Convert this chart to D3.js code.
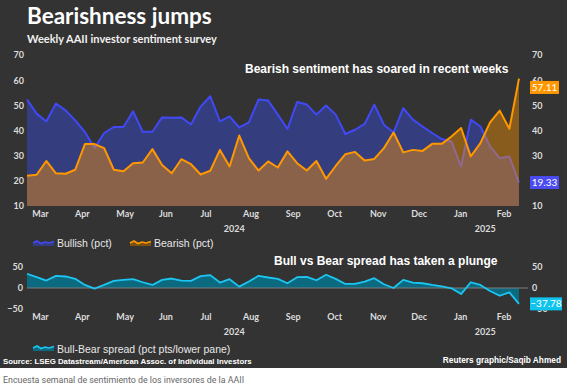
<!DOCTYPE html>
<html lang="en">
<head>
<meta charset="UTF-8">
<title>Bearishness jumps</title>
<script src="https://cdn.jsdelivr.net/npm/d3@7"></script>
<style>
  body { margin: 0; background: #fff; }
  svg { display: block; }
  .tick text { font-family: Lato, sans-serif; font-weight: bold; font-size: 9px; fill: #dcdcdc; }
</style>
</head>
<body>
<script>
// weekly AAII survey, first week 28 Feb 2024
var firstWeek = new Date(2024, 1, 28);
var bullish = [52.3, 46.7, 43.6, 50.7, 48.0, 44.0, 39.4, 33.0, 39.0, 41.4, 41.4, 47.6, 39.5,
               39.5, 45.2, 45.1, 45.2, 42.4, 49.5, 53.6, 43.6, 45.6, 41.2, 43.2, 52.3, 51.9,
               46.3, 40.6, 51.3, 50.3, 46.3, 49.9, 46.3, 38.6, 40.3, 42.6, 50.3, 42.3, 39.2,
               48.9, 44.3, 41.6, 39.0, 36.6, 35.6, 25.7, 44.3, 41.6, 33.7, 29.0, 29.7, 19.3];
var bearish = [22.0, 22.4, 27.9, 23.0, 22.8, 24.4, 34.6, 34.6, 33.0, 24.4, 23.8, 27.0, 27.3,
               32.6, 26.3, 23.0, 28.6, 26.6, 22.5, 24.0, 32.3, 25.7, 38.0, 29.0, 24.1, 27.7,
               25.3, 31.7, 27.0, 24.1, 27.9, 20.8, 25.9, 30.6, 31.5, 28.1, 28.7, 33.0, 39.2,
               31.3, 32.3, 31.9, 34.7, 34.7, 37.6, 41.0, 29.7, 35.0, 43.2, 47.9, 40.7, 60.6];
var spread = [33.9, 25.8, 17.7, 29.0, 27.4, 21.8, 7.3, -1.6, 7.3, 17.0, 19.4, 21.0, 13.7,
              7.3, 19.4, 22.6, 17.7, 17.0, 28.2, 30.6, 12.9, 21.0, 3.2, 15.3, 29.0, 25.0,
              21.8, 11.3, 25.8, 26.6, 18.5, 31.5, 21.8, 9.7, 9.7, 15.3, 23.4, 8.9, 0.0,
              19.4, 12.9, 11.3, 7.3, 4.0, -0.8, -14.5, 13.7, 7.3, -7.3, -18.5, -10.5, -37.8];
var latestBull = 19.33, latestBear = 57.11, latestSpread = -37.78;
var sentimentTicks = [10, 20, 30, 40, 50, 60, 70];
var spreadTicks = [-50, 0, 50];

var width = 572, height = 388;
var dates = bullish.map(function(d, i) { return d3.timeDay.offset(firstWeek, 7 * i); });

var svg = d3.select('body').append('svg')
  .attr('width', width)
  .attr('height', height);

svg.append('rect')
  .attr('width', 567).attr('height', 368)
  .attr('fill', '#333333');

var x = d3.scaleTime()
  .domain([dates[0], dates[dates.length - 1]])
  .range([27, 519]);
var y = d3.scaleLinear().domain([10, 70]).range([206, 55]);
var ys = d3.scaleLinear().domain([-50, 50]).range([309, 267]);

// titles
svg.append('text').attr('x', 27).attr('y', 24)
  .style('font-family', 'Lato, sans-serif').style('font-weight', 'bold').style('font-size', '22.5px')
  .attr('fill', '#fff').text('Bearishness jumps');
svg.append('text').attr('x', 27).attr('y', 43)
  .style('font-family', 'Lato, sans-serif').style('font-weight', 'bold').style('font-size', '11px')
  .attr('fill', '#f0f0f0').text('Weekly AAII investor sentiment survey');

// upper pane
var areaOf = function(vals) {
  return d3.area()
    .x(function(d, i) { return x(dates[i]); })
    .y0(y(10))
    .y1(function(d) { return y(d); })(vals);
};
var lineOf = function(vals, sc) {
  return d3.line()
    .x(function(d, i) { return x(dates[i]); })
    .y(function(d) { return sc(d); })(vals);
};

svg.append('path').attr('d', areaOf(bullish)).attr('fill', '#343d7e');
svg.append('path').attr('d', lineOf(bullish, y))
  .attr('fill', 'none').attr('stroke', '#4149f6').attr('stroke-width', 2).attr('stroke-linejoin', 'round');
svg.append('path').attr('d', areaOf(bearish)).attr('fill', 'rgba(255,150,0,0.42)');
svg.append('path').attr('d', lineOf(bearish, y))
  .attr('fill', 'none').attr('stroke', '#ff9800').attr('stroke-width', 2).attr('stroke-linejoin', 'round');

var yLeft = svg.append('g').attr('transform', 'translate(25,0)')
  .call(d3.axisLeft(y).tickValues(sentimentTicks).tickSize(0).tickPadding(1));
var yRight = svg.append('g').attr('transform', 'translate(531,0)')
  .call(d3.axisRight(y).tickValues(sentimentTicks).tickSize(0).tickPadding(1));

var monthAxis = d3.axisBottom(x)
  .ticks(d3.timeMonth.every(1))
  .tickFormat(d3.timeFormat('%b'))
  .tickSize(0).tickPadding(5);
var xTop = svg.append('g').attr('transform', 'translate(0,206)').call(monthAxis);

svg.append('text').attr('x', 245).attr('y', 73)
  .style('font-family', '"Liberation Sans", Arial, sans-serif').style('font-weight', 'bold').style('font-size', '12px')
  .attr('fill', '#fff').text('Bearish sentiment has soared in recent weeks');

// lower pane
svg.append('path')
  .attr('d', d3.area()
    .x(function(d, i) { return x(dates[i]); })
    .y0(ys(0))
    .y1(function(d) { return ys(d); })(spread))
  .attr('fill', '#0c6a80');
svg.append('line')
  .attr('x1', 27).attr('x2', 528).attr('y1', ys(0)).attr('y2', ys(0))
  .attr('stroke', '#7d7d7d').attr('stroke-width', 1);
svg.append('path').attr('d', lineOf(spread, ys))
  .attr('fill', 'none').attr('stroke', '#1cc6f2').attr('stroke-width', 1.8).attr('stroke-linejoin', 'round');

var sLeft = svg.append('g').attr('transform', 'translate(24,0)')
  .call(d3.axisLeft(ys).tickValues(spreadTicks).tickSize(0).tickPadding(1));
var sRight = svg.append('g').attr('transform', 'translate(531,0)')
  .call(d3.axisRight(ys).tickValues(spreadTicks).tickSize(0).tickPadding(1));
var xBottom = svg.append('g').attr('transform', 'translate(0,309)').call(monthAxis);

svg.append('text').attr('x', 274).attr('y', 265)
  .style('font-family', '"Liberation Sans", Arial, sans-serif').style('font-weight', 'bold').style('font-size', '12px')
  .attr('fill', '#fff').text('Bull vs Bear spread has taken a plunge');

[yLeft, yRight, xTop, sLeft, sRight, xBottom].forEach(function(g) { g.select('.domain').remove(); });
[xTop, xBottom].forEach(function(g) {
  g.selectAll('.tick text').attr('text-anchor', 'start').attr('dx', 2);
});

// year labels, centred on each year's stretch of the axis
var yearBreak = x(new Date(2025, 0, 1));
[231.5, 335].forEach(function(yy) {
  svg.append('text').attr('class', 'yr').attr('x', (27 + yearBreak) / 2 - 5).attr('y', yy).text('2024');
  svg.append('text').attr('class', 'yr').attr('x', (yearBreak + 519) / 2).attr('y', yy).text('2025');
});
svg.selectAll('.yr').attr('text-anchor', 'middle')
  .style('font-family', 'Lato, sans-serif').style('font-weight', 'bold').style('font-size', '9px')
  .attr('fill', '#dcdcdc');

// latest value tags
function tag(val, sc, w, color) {
  svg.append('rect').attr('x', 530).attr('y', sc(val) - 6.5).attr('width', w).attr('height', 13)
    .attr('fill', color);
  svg.append('text').attr('x', 530 + w / 2).attr('y', sc(val) + 3.5).attr('text-anchor', 'middle')
    .style('font-family', 'Lato, sans-serif').style('font-size', '10px')
    .attr('fill', '#fff').text(d3.format('.2f')(val));
}
tag(latestBear, y, 29, '#ff9800');
tag(latestBull, y, 29, '#4a4cf2');
tag(latestSpread, ys, 32, '#10c4ee');

// legends
function legendIcon(x0, y0, stroke, fill) {
  var pts = [[0, 3], [4, 1], [8, 3.5], [12, 2], [16, 3], [21, 1.5]];
  svg.append('path')
    .attr('d', d3.area().y0(6).y1(function(d) { return d[1]; }).x(function(d) { return d[0]; })(pts))
    .attr('transform', 'translate(' + x0 + ',' + y0 + ')')
    .attr('fill', fill);
  svg.append('path')
    .attr('d', d3.line()(pts))
    .attr('transform', 'translate(' + x0 + ',' + y0 + ')')
    .attr('fill', 'none').attr('stroke', stroke).attr('stroke-width', 1.6);
}
function legendText(x0, y0, txt) {
  svg.append('text').attr('x', x0).attr('y', y0)
    .style('font-family', '"Liberation Sans", Arial, sans-serif').style('font-size', '10.5px')
    .attr('fill', '#e8e8e8').text(txt);
}
legendIcon(33, 240, '#4149f6', '#343d7e');
legendText(57, 246.5, 'Bullish (pct)');
legendIcon(130, 240, '#ff9800', '#7a5010');
legendText(154, 246.5, 'Bearish (pct)');
legendIcon(33, 345, '#1cc6f2', '#0c6a80');
legendText(57, 352.5, 'Bull-Bear spread (pct pts/lower pane)');

// footer
svg.append('text').attr('x', 3).attr('y', 364)
  .style('font-family', '"Liberation Sans", Arial, sans-serif').style('font-weight', 'bold').style('font-size', '7.85px')
  .attr('fill', '#fff').text('Source: LSEG Datastream/American Assoc. of Individual Investors');
svg.append('text').attr('x', 561).attr('y', 363).attr('text-anchor', 'end')
  .style('font-family', '"Liberation Sans", Arial, sans-serif').style('font-weight', 'bold').style('font-size', '8.3px')
  .attr('fill', '#fff').text('Reuters graphic/Saqib Ahmed');
svg.append('text').attr('x', 3).attr('y', 383)
  .style('font-family', 'Roboto, sans-serif').style('font-size', '8.85px')
  .attr('fill', '#666').text('Encuesta semanal de sentimiento de los inversores de la AAII');
</script>
</body>
</html>
